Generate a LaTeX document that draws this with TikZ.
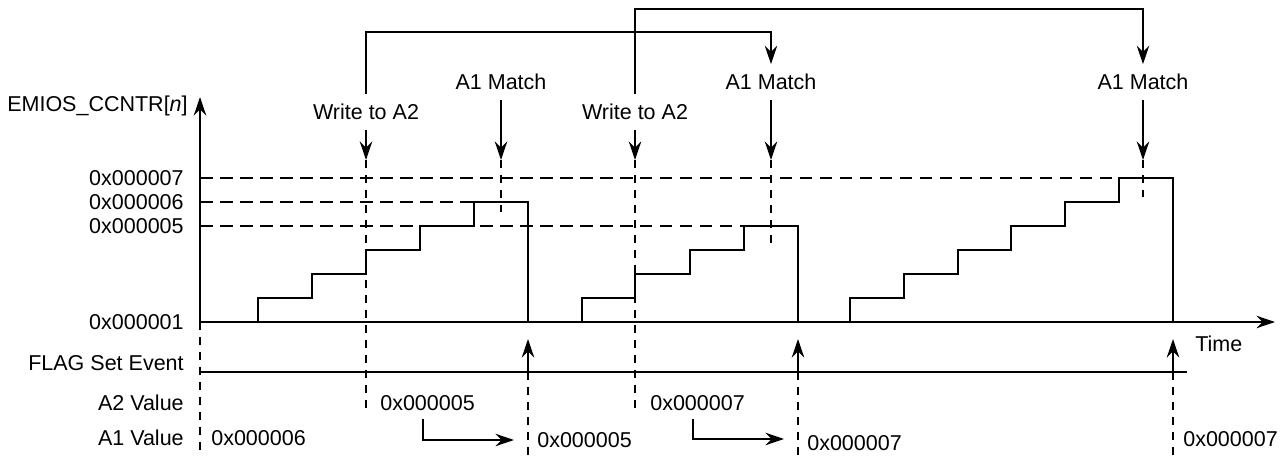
\documentclass[tikz,border=0pt]{standalone}
\usepackage{fontspec}
\setmainfont{Liberation Sans}
\usetikzlibrary{arrows.meta,calc}
\tikzset{
  lbl/.style={font=\fontsize{12.9}{14}\selectfont, inner sep=0pt},
  evt/.style={lbl, minimum height=21pt},
  arr/.style={-{Stealth[length=11pt, width=7.4pt, inset=3.6pt]}, line width=1.4pt},
  sig/.style={line width=1.4pt},
  hguide/.style={line width=1.4pt, dash pattern=on 7.5pt off 4.5pt},
  vguide/.style={line width=1.4pt, dash pattern=on 5pt off 4pt},
}

\begin{document}
\begin{tikzpicture}[x=0.6pt, y=-0.6pt]
  \useasboundingbox (0,0) rectangle (1286,456);
  % axes
  \coordinate (o) at (200,322);
  \coordinate (ytop) at (200,97);
  \coordinate (tend) at (1275,322);
  \draw[arr] (o) -- (ytop);
  \draw[arr] (o) -- (tend);
  \draw[vguide] (o) -- ++(0,134);
  \node[lbl, anchor=east] (ylbl) at (188,106) {EMIOS\_CCNTR[\textit{n}]};
  \node[lbl, anchor=west] (tlbl) at (1195,344) {Time};
  \foreach \v/\y in {7/178,6/202,5/226,1/322} { \node[lbl, anchor=east] (lv\v) at (184,\y) {0x00000\v}; }
  % level guides
  \draw[hguide] (lv7.east -| o) -- (1119,178);
  \draw[hguide] (lv6.east -| o) -- (474,202);
  \draw[hguide] (lv5.east -| o) -- (744,226);
  % counter
  \draw[sig] (258,322) |- (312,298) |- (366,274) |- (420,250) |- (474,226) |- (528,202) -- (528,322);
  \draw[sig] (582,322) |- (635,298) |- (690,274) |- (744,250) |- (798,226) -- (798,322);
  \draw[sig] (850,322) |- (904,298) |- (958,274) |- (1011,250) |- (1065,226) |- (1119,202) |- (1173,178) -- (1173,322);
  % events
  \node[evt] (wr1) at (366,112) {Write to A2};
  \node[evt] (wr2) at (635,112) {Write to A2};
  \node[evt] (m1) at (501,82) {A1 Match};
  \node[evt] (m2) at (771,82) {A1 Match};
  \node[evt] (m3) at (1143,82) {A1 Match};
  \coordinate (w1) at (366,160);
  \coordinate (w2) at (635,160);
  \coordinate (c1) at (501,160);
  \coordinate (c2) at (771,160);
  \coordinate (c3) at (1143,160);
  \draw[arr] (wr1) -- (w1);  \draw[arr] (wr2) -- (w2);
  \draw[arr] (m1) -- (c1);  \draw[arr] (m2) -- (c2);  \draw[arr] (m3) -- (c3);
  \draw[arr] (wr1.north) -- ++(0,-62) -| (m2.north);
  \draw[arr] (wr2.north) -- ++(0,-85) -| (m3.north);
  \draw[vguide] (w1) -- ++(0,253);
  \draw[vguide] (w2) -- ++(0,253);
  \draw[vguide] (c1) -- ++(0,52);
  \draw[vguide] (c2) -- ++(0,83);
  \draw[vguide] (c3) -- ++(0,37);
  % flag line
  \coordinate (f0) at (200,372);
  \coordinate (f1) at (528,372);
  \coordinate (f2) at (798,372);
  \coordinate (f3) at (1173,372);
  \draw[sig] (f0) -- (1187,372);
  \foreach \f in {f1,f2,f3} { \draw[arr] (\f) -- ++(0,-33); \draw[vguide] (\f) -- ++(0,84); }
  % register values
  \node[lbl, anchor=east] (flg) at (184,363) {FLAG Set Event};
  \node[lbl, anchor=east] (a2l) at (184,403) {A2 Value};
  \node[lbl, anchor=east] (a1l) at (184,438) {A1 Value};
  \node[lbl, anchor=west] (a1a) at (211,438) {0x000006};
  \node[lbl, anchor=west] (a2a) at (380,403) {0x000005};
  \node[lbl, anchor=west] (a1b) at (537,440) {0x000005};
  \node[lbl, anchor=west] (a2b) at (650,403) {0x000007};
  \node[lbl, anchor=west] (a1c) at (807,443) {0x000007};
  \node[lbl, anchor=west] (a1d) at (1183,439) {0x000007};
  \draw[arr] ([xshift=25.8pt,yshift=-5.1pt]a2a.south west) |- ([xshift=-13.8pt]a1b.west);
  \draw[arr] ([xshift=25.8pt,yshift=-5.1pt]a2b.south west) |- ([xshift=-13.8pt,yshift=2.4pt]a1c.west);
\end{tikzpicture}
\end{document}
